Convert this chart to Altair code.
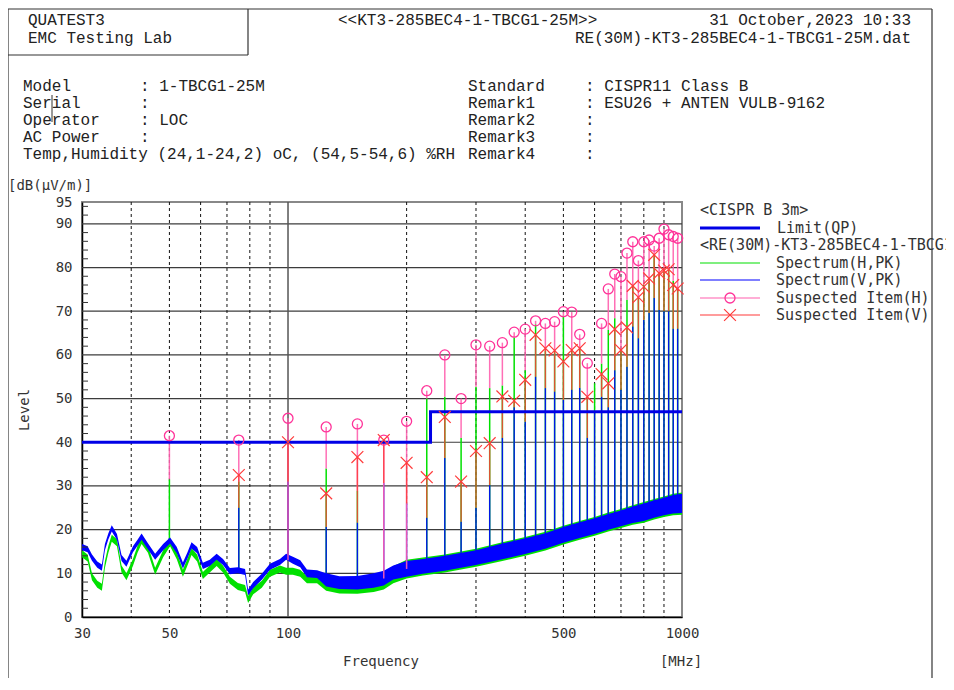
import altair as alt
import pandas as pd

# ---------------- data ----------------
FREQ = [30, 31, 31.8, 32.8, 33.7, 34.3, 35, 35.7, 36.8, 37.8,
        38.9, 40.4, 41.5, 42.5, 44.1, 46, 48.2, 50.2, 52.2, 54.1,
        55.5, 56.9, 58.8, 60.8, 63.3, 65.9, 68.4, 71.2, 74.6, 77.8,
        79.2, 81.6, 85.8, 90, 95.4, 98.9, 102.9, 107.4, 111.7, 118.5,
        125, 135, 150, 165, 175, 185,
        200, 220, 250, 300, 350, 400, 450, 500, 550, 600, 650, 700, 750, 800, 850, 900, 950, 1000]

V_HI = [16.7, 16.2, 14.3, 12.7, 12.0, 16.7, 19.2, 21.0, 19.0, 14.2,
        12.9, 16.2, 17.7, 19.1, 16.9, 14.5, 16.7, 18.2, 16.0, 12.5,
        14.7, 17.1, 16.0, 12.4, 13.1, 14.5, 13.3, 11.2, 11.4, 11.0,
        6.3, 8.0, 9.9, 12.2, 13.3, 14.5, 13.8, 13.0, 10.9, 10.7,
        10.0, 9.3, 9.4, 10.0, 10.6, 11.8,
        12.8, 13.3, 14.0, 15.3, 16.8, 18.0, 19.2, 20.6, 21.7, 22.6, 23.6, 24.4, 25.3, 26.0, 26.7, 27.3, 27.9, 28.2]
V_LO = [15.3, 14.8, 12.9, 11.3, 10.6, 15.3, 17.8, 19.6, 17.6, 12.8,
        11.5, 14.8, 16.3, 17.7, 15.5, 13.1, 15.3, 16.8, 14.6, 11.1,
        13.3, 15.7, 14.6, 11.0, 11.7, 13.1, 11.9, 9.8, 10.0, 9.6,
        4.9, 6.6, 8.5, 10.8, 11.9, 13.1, 12.2, 11.4, 9.1, 8.9,
        7.0, 6.4, 6.3, 6.7, 7.2, 8.6,
        9.2, 9.9, 10.6, 11.9, 13.2, 14.4, 15.6, 17.0, 18.1, 19.0, 20.0, 20.8, 21.5, 22.0, 22.7, 23.3, 23.7, 23.8]
H_HI = [15.3, 14.3, 10.0, 8.3, 7.6, 12.8, 16.3, 18.8, 17.8, 11.8,
        10.0, 13.3, 16.3, 18.3, 16.3, 11.3, 15.3, 17.8, 14.8, 10.8,
        13.3, 15.8, 14.3, 10.3, 11.8, 13.3, 11.8, 9.2, 7.8, 7.3,
        4.8, 6.8, 8.3, 10.8, 11.8, 11.3, 11.3, 10.8, 9.3, 9.3,
        9.8, 9.1, 9.2, 9.8, 10.4, 11.6,
        13.1, 13.6, 14.3, 15.6, 17.1, 18.3, 19.5, 20.9, 22.0, 22.9, 23.9, 24.7, 25.6, 26.3, 27.0, 27.6, 28.2, 28.5]
H_LO = [13.7, 12.7, 8.4, 6.7, 6.0, 11.2, 14.7, 17.2, 16.2, 10.2,
        8.4, 11.7, 14.7, 16.7, 14.7, 9.7, 13.7, 16.2, 13.2, 9.2,
        11.7, 14.2, 12.7, 8.7, 10.2, 11.7, 10.2, 7.6, 6.2, 5.7,
        3.2, 5.2, 6.7, 9.2, 10.2, 9.7, 9.7, 9.2, 7.7, 7.7,
        6.0, 5.4, 5.3, 5.7, 6.3, 7.7,
        8.8, 9.5, 10.2, 11.5, 12.8, 14.0, 15.2, 16.6, 17.7, 18.6, 19.6, 20.4, 21.1, 21.6, 22.3, 22.9, 23.3, 23.4]

HARM_F = [50, 75, 100, 125, 150, 175, 200, 225, 250, 275, 300, 325, 350, 375, 400, 425, 450, 475, 500,
          525, 550, 575, 600, 625, 650, 675, 700, 725, 750, 775, 800, 825, 850, 875, 900, 925, 950, 975]
H_SUSP = [41.5, 40.5, 45.5, 43.5, 44.2, 40.5, 44.8, 51.8, 60.0, 50.0, 62.3, 62.0, 62.8, 65.2, 65.9, 67.8, 67.2, 67.6, 69.9,
          69.8, 64.7, 58.1, None, 67.2, 75.1, 78.5, 77.9, 83.3, 85.9, 81.6, 85.9, 86.3, 84.9, 86.7, 88.8, 87.5, 87.1, 86.7]
V_SUSP = [None, 32.5, 40.0, 28.3, 36.6, 40.5, 35.3, 32.0, 45.8, 31.0, 38.0, 39.8, 50.5, 49.5, 54.3, 64.6, 61.5, 61.0, 58.5,
          61.1, 61.5, 50.4, None, 55.6, 53.5, 65.9, 61.1, 66.3, 75.8, 73.2, 75.6, 77.5, 82.9, 78.7, 79.3, 79.6, 76.0, 75.2]
H_PEAK = [31.5, 31.0, 13.0, 34.0, 28.9, 8.8, 11.0, 50.0, 50.4, 41.0, 52.7, 52.4, 53.0, 64.0, 56.5, 67.0, 61.0, 61.0, 69.0,
          61.0, 61.5, 50.0, 53.5, 58.0, 65.7, 68.4, 61.0, 72.6, 76.0, 73.0, 76.0, 77.0, 83.0, 78.7, 79.0, 79.6, 77.0, 75.0]
V_PEAK = [18.0, 25.0, 31.0, 20.6, 21.6, 30.7, 26.0, 22.7, 36.4, 21.8, 25.0, 30.2, 41.0, 48.0, 44.7, 55.0, 52.4, 51.6, 49.7,
          52.0, 52.4, 41.0, 47.0, 50.4, 48.0, 56.5, 52.0, 57.3, 66.5, 63.8, 68.0, 69.6, 73.0, 70.3, 70.0, 70.0, 66.0, 66.0]
FLOOR = [17, 10.5, 13, 8.5, 7.8, 8.8, 11, 11.6, 12.3, 13, 13.6, 14.3, 15, 15.6, 16.2, 16.8, 17.4, 18, 18.8,
         19.3, 19.9, 20.3, 20.8, 21.3, 21.8, 22.2, 22.6, 23, 23.4, 23.7, 24, 24.3, 24.7, 25, 25.3, 25.5, 25.8, 25.9]

LIMIT_F = [30, 230, 230, 1000]
LIMIT_V = [40, 40, 47, 47]

X_LABELS = [30, 50, 100, 500, 1000]
X_DASH = [40, 50, 60, 70, 80, 90, 200, 300, 400, 500, 600, 700, 800, 900]
X_SOLID = [100]
Y_LABELS = [0, 10, 20, 30, 40, 50, 60, 70, 80, 90, 95]
Y_GRID = [10, 20, 30, 40, 50, 60, 70, 80, 90]
Y_MINOR = [2, 4, 6, 8, 12, 14, 16, 18, 22, 24, 26, 28, 32, 34, 36, 38, 42, 44, 46, 48, 52, 54, 56, 58,
           62, 64, 66, 68, 72, 74, 76, 78, 82, 84, 86, 88, 92, 94]

# ---------------- styles ----------------
MONO = "Liberation Mono"
SMONO = "DejaVu Sans Mono"
GREEN = "#00e000"
BLUE = "#0000ff"
PINK = "#ff3399"
PINK_STEM = "#ff5fae"
RED = "#ff3b3b"
XPATH = "M-1,-1L1,1M-1,1L1,-1"

xs = alt.Scale(type="log", domain=[30, 1000], nice=False)
ys = alt.Scale(domain=[0, 95], nice=False, zero=False)

yaxis = alt.Axis(values=Y_LABELS, title="", ticks=False, grid=False, domainColor="black", domainWidth=1.5,
                 labelFont=SMONO, labelFontSize=14, labelColor="#333", labelPadding=10, labelOverlap=False)
xaxis = alt.Axis(values=X_LABELS, title="", ticks=False, grid=False, domainColor="black", domainWidth=1.5,
                 labelFont=SMONO, labelFontSize=14, labelColor="#333", labelPadding=9, labelFlush=False,
                 labelOverlap=False, format="d")

noise = pd.DataFrame({"f": FREQ, "vlo": V_LO, "vhi": V_HI, "hlo": H_LO, "hhi": H_HI})
harm = pd.DataFrame({"f": HARM_F, "hq": H_SUSP, "vq": V_SUSP, "hs": H_PEAK, "vs": V_PEAK, "fl": FLOOR})
limit = pd.DataFrame({"f": LIMIT_F, "v": LIMIT_V, "o": list(range(len(LIMIT_F)))})

dummy = alt.Data(values=[{}])

def X(field):
    return alt.X(field, type="quantitative", scale=xs, axis=xaxis, title="")

def Y(field):
    return alt.Y(field, type="quantitative", scale=ys, axis=yaxis, title="")

def txt(s, x, y, font=MONO, size=16, align="left", color="#222", angle=0):
    kw = dict(text=s, font=font, fontSize=size, align=align, baseline="middle", color=color)
    if angle:
        kw["angle"] = angle
    return alt.Chart(dummy).mark_text(**kw).encode(x=alt.value(x), y=alt.value(y))

def hline(x1, x2, y, color="#222", w=1.0):
    return alt.Chart(dummy).mark_rule(color=color, strokeWidth=w).encode(
        x=alt.value(x1), x2=alt.value(x2), y=alt.value(y))

def vline(x, y1, y2, color="#222", w=1.0):
    return alt.Chart(dummy).mark_rule(color=color, strokeWidth=w).encode(
        x=alt.value(x), y=alt.value(y1), y2=alt.value(y2))

layers = []
# base layer carrying both axes
layers.append(alt.Chart(limit).mark_point(opacity=0, size=1).encode(x=X("f"), y=Y("v")))
# grid
layers.append(alt.Chart(pd.DataFrame({"v": Y_GRID})).mark_rule(color="#3c3c3c", strokeWidth=1.2).encode(y=Y("v")))
layers.append(alt.Chart(pd.DataFrame({"f": X_DASH})).mark_rule(color="#111", strokeWidth=1, strokeDash=[3, 3]).encode(x=X("f")))
layers.append(alt.Chart(pd.DataFrame({"f": X_SOLID})).mark_rule(color="#555", strokeWidth=1.5).encode(x=X("f")))

# spectrum H (green)
layers.append(alt.Chart(harm).mark_rule(color=GREEN, strokeWidth=1.5).encode(x=X("f"), y=Y("fl"), y2="hs:Q"))
layers.append(alt.Chart(noise).mark_area(color=GREEN).encode(x=X("f"), y=Y("hlo"), y2="hhi:Q"))
# spectrum V (blue)
layers.append(alt.Chart(harm).mark_rule(color=BLUE, strokeWidth=1.4, opacity=0.9).encode(x=X("f"), y=Y("fl"), y2="vs:Q"))
layers.append(alt.Chart(noise).mark_area(color=BLUE).encode(x=X("f"), y=Y("vlo"), y2="vhi:Q"))

# suspected stems
layers.append(alt.Chart(harm).transform_filter("isValid(datum.hq)").mark_rule(color=PINK_STEM, strokeWidth=1.5, opacity=0.9)
              .encode(x=X("f"), y=Y("hs"), y2="hq:Q"))
layers.append(alt.Chart(harm).transform_filter("isValid(datum.vq)").mark_rule(color=RED, strokeWidth=1.4, opacity=0.85)
              .encode(x=X("f"), y=Y("vs"), y2="vq:Q"))

# limit
layers.append(alt.Chart(limit).mark_line(color="#0000e6", strokeWidth=3).encode(x=X("f"), y=Y("v"), order="o:Q"))

# markers
layers.append(alt.Chart(harm).transform_filter("isValid(datum.hq)").mark_point(
    shape="circle", filled=False, color=PINK, strokeWidth=1.3, size=100, opacity=1).encode(x=X("f"), y=Y("hq")))
layers.append(alt.Chart(harm).transform_filter("isValid(datum.vq)").mark_point(
    shape=XPATH, filled=False, color=RED, strokeWidth=1.2, size=140, opacity=1).encode(x=X("f"), y=Y("vq")))

# minor y ticks inside the plot
layers.append(alt.Chart(pd.DataFrame({"v": Y_MINOR})).mark_rule(color="#333", strokeWidth=1).encode(
    y=Y("v"), x=alt.value(0), x2=alt.value(6)))

# page frame and header box
layers += [
    hline(-74, 850, -193, "#333", 1.2),
    vline(-74, -193, 476, "#333", 1.2),
    vline(850, -193, 476, "#333", 1.2),
    vline(166, -193, -147, "#333", 1.2),
    hline(-74, 166, -147, "#333", 1.2),
    vline(-30, -107, -80, "#333", 1),
]

# header texts
layers += [
    txt("QUATEST3", -54, -182),
    txt("EMC Testing Lab", -54, -164),
    txt("<<KT3-285BEC4-1-TBCG1-25M>>", 256, -182),
    txt("31 October,2023 10:33", 829, -182, align="right"),
    txt("RE(30M)-KT3-285BEC4-1-TBCG1-25M.dat", 829, -164, align="right"),
]
rows_y = [-116, -99, -82, -65, -48]
for s, yy in zip(["Model", "Serial", "Operator", "AC Power"], rows_y[:4]):
    layers.append(txt(s, -59, yy))
layers.append(txt("Temp,Humidity (24,1-24,2) oC, (54,5-54,6) %RH", -59, rows_y[4]))
for s, yy in zip([": 1-TBCG1-25M", ":", ": LOC", ":"], rows_y[:4]):
    layers.append(txt(s, 58, yy))
for s, yy in zip(["Standard", "Remark1", "Remark2", "Remark3", "Remark4"], rows_y):
    layers.append(txt(s, 386, yy))
for s, yy in zip([": CISPR11 Class B", ": ESU26 + ANTEN VULB-9162", ":", ":", ":"], rows_y):
    layers.append(txt(s, 503, yy))

# axis titles
layers += [
    txt("[dB(μV/m)]", -74, -16, font=SMONO, size=14, color="#333"),
    txt("Level", -57, 208, font=SMONO, size=14, color="#333", align="center", angle=270),
    txt("Frequency", 299, 460, font=SMONO, size=14, color="#333", align="center"),
    txt("[MHz]", 599, 460, font=SMONO, size=14, color="#333", align="center"),
]

# legend
layers += [
    txt("<CISPR B 3m>", 618, 8, font=SMONO, size=15, color="#333"),
    hline(618, 678, 26, "#0000e6", 3),
    txt("Limit(QP)", 695, 26, font=SMONO, size=15, color="#333"),
    txt("<RE(30M)-KT3-285BEC4-1-TBCG1-25M>", 618, 43, font=SMONO, size=15, color="#333"),
    hline(618, 678, 61, GREEN, 1.2),
    txt("Spectrum(H,PK)", 694, 61, font=SMONO, size=15, color="#333"),
    hline(618, 678, 78, BLUE, 1.2),
    txt("Spectrum(V,PK)", 694, 78, font=SMONO, size=15, color="#333"),
    hline(618, 678, 96, PINK_STEM, 1.2),
    txt("Suspected Item(H)", 694, 96, font=SMONO, size=15, color="#333"),
    hline(618, 678, 113, RED, 1.2),
    txt("Suspected Item(V)", 694, 113, font=SMONO, size=15, color="#333"),
    alt.Chart(dummy).mark_point(shape="circle", filled=False, color=PINK, strokeWidth=1.3, size=100, opacity=1)
    .encode(x=alt.value(648), y=alt.value(96)),
    alt.Chart(dummy).mark_point(shape=XPATH, filled=False, color=RED, strokeWidth=1.2, size=140, opacity=1)
    .encode(x=alt.value(648), y=alt.value(113)),
]

chart = alt.layer(*layers).properties(
    width=600, height=415,
    autosize=alt.AutoSizeParams(type="none"),
    padding={"left": 74, "top": 194, "right": 264, "bottom": 61},
    background="white",
).configure_view(stroke="#888", strokeWidth=2)

chart.save("out.html", embed_options={"renderer": "svg", "actions": False})
